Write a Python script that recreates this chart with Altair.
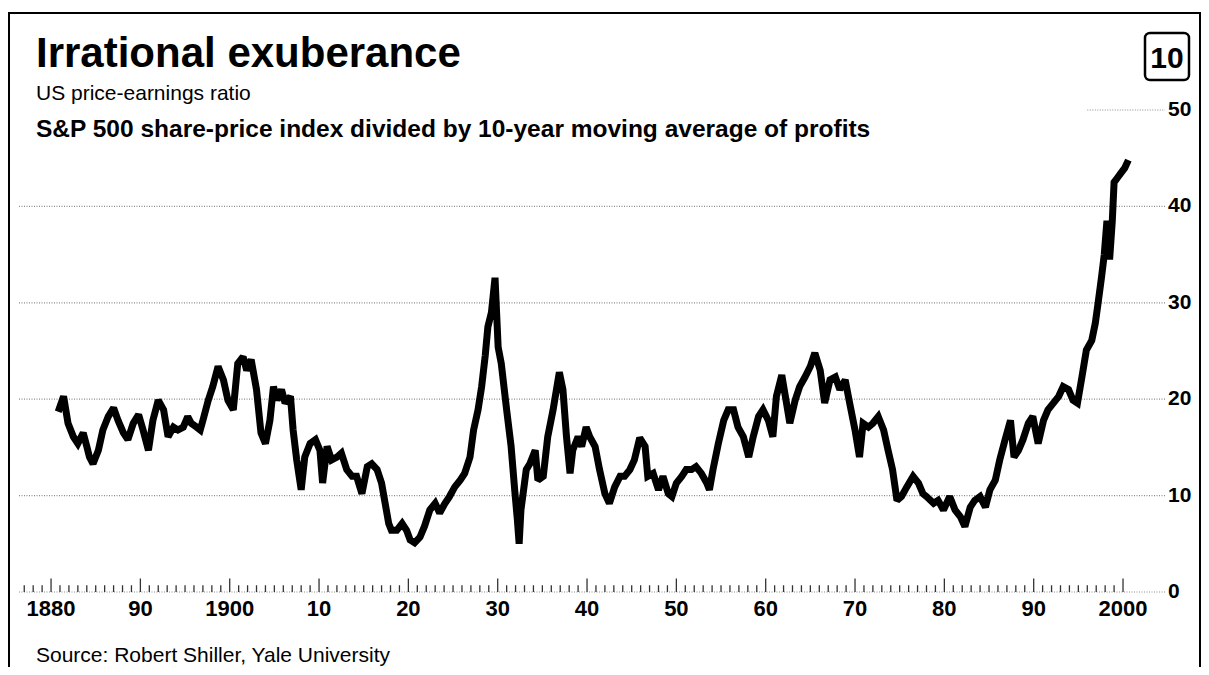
import altair as alt
import pandas as pd

# ---------------- data ----------------
years = [1880.8, 1881.4, 1881.9, 1882.5, 1883.0, 1883.6, 1884.0, 1884.3, 1884.7, 1885.3,
         1885.8, 1886.4, 1887.0, 1887.5, 1888.1, 1888.6, 1889.2, 1889.8, 1890.3, 1890.9,
         1891.4, 1892.0, 1892.6, 1893.1, 1893.7, 1894.2, 1894.8, 1895.3, 1895.7, 1896.3,
         1896.7, 1897.0, 1897.6, 1898.1, 1898.7, 1899.3, 1899.8, 1900.4, 1900.9, 1901.5,
         1901.9, 1902.4, 1903.0, 1903.5, 1904.0, 1904.5, 1904.9, 1905.3, 1905.8, 1906.2,
         1906.8, 1907.1, 1907.5, 1908.0, 1908.4, 1909.0, 1909.6, 1910.1, 1910.4, 1910.9,
         1911.4, 1912.0, 1912.5, 1913.1, 1913.7, 1914.2, 1914.8, 1915.4, 1915.9, 1916.5,
         1917.0, 1917.4, 1917.8, 1918.1, 1918.7, 1919.3, 1919.8, 1920.2, 1920.7, 1921.3,
         1921.8, 1922.4, 1923.0, 1923.5, 1924.1, 1924.6, 1925.2, 1925.8, 1926.3, 1926.9,
         1927.3, 1927.8, 1928.2, 1928.6, 1928.9, 1929.3, 1929.7, 1930.05, 1930.4, 1931.0,
         1931.5, 1931.9, 1932.2, 1932.4, 1932.6, 1933.2, 1933.6, 1934.2, 1934.5, 1935.1,
         1935.6, 1936.2, 1936.9, 1937.3, 1937.7, 1938.1, 1938.4, 1939.0, 1939.4, 1939.9,
         1940.3, 1940.9, 1941.4, 1942.0, 1942.5, 1943.1, 1943.7, 1944.2, 1944.8, 1945.3,
         1945.9, 1946.5, 1946.8, 1947.4, 1948.0, 1948.5, 1949.1, 1949.5, 1950.0, 1950.6,
         1951.1, 1951.7, 1952.2, 1952.8, 1953.4, 1953.7, 1954.1, 1954.7, 1955.3, 1955.8,
         1956.4, 1956.9, 1957.5, 1958.1, 1958.6, 1959.2, 1959.7, 1960.3, 1960.8, 1961.2,
         1961.8, 1962.4, 1962.7, 1963.3, 1963.8, 1964.4, 1965.0, 1965.5, 1966.1, 1966.6,
         1967.2, 1967.8, 1968.3, 1968.9, 1969.4, 1970.0, 1970.5, 1970.9, 1971.5, 1972.0,
         1972.6, 1973.2, 1973.7, 1974.2, 1974.7, 1975.2, 1975.8, 1976.5, 1977.1, 1977.6,
         1978.0, 1978.8, 1979.3, 1979.9, 1980.6, 1981.2, 1981.8, 1982.3, 1982.9, 1983.4,
         1984.0, 1984.6, 1985.1, 1985.7, 1986.2, 1986.8, 1987.4, 1987.8, 1988.3, 1988.8,
         1989.4, 1989.9, 1990.5, 1991.1, 1991.6, 1992.2, 1992.8, 1993.3, 1993.9, 1994.4,
         1994.9, 1995.4, 1995.9, 1996.5, 1996.9, 1997.2, 1997.6, 1997.9, 1998.2, 1998.5,
         1998.8, 1999.0, 1999.4, 1999.8, 2000.2, 2000.6]

pe_ratio = [18.7, 20.3, 17.5, 16.1, 15.4, 16.5, 15.1, 14.0, 13.3, 14.7,
            16.8, 18.2, 19.1, 17.8, 16.5, 15.8, 17.5, 18.4, 16.8, 14.7,
            17.8, 19.9, 18.9, 16.1, 17.1, 16.8, 17.1, 18.2, 17.5, 17.1,
            16.8, 17.8, 19.9, 21.3, 23.4, 22.0, 19.9, 18.9, 23.7, 24.4,
            23.0, 24.1, 21.0, 16.5, 15.4, 17.8, 21.3, 19.9, 21.0, 19.6,
            20.3, 16.8, 13.7, 10.6, 14.0, 15.4, 15.8, 14.7, 11.3, 15.1,
            13.7, 14.0, 14.4, 12.7, 12.0, 12.0, 10.2, 13.0, 13.3, 12.7,
            11.3, 9.2, 7.1, 6.4, 6.4, 7.1, 6.4, 5.4, 5.1, 5.7,
            6.8, 8.5, 9.2, 8.2, 9.2, 9.9, 10.9, 11.6, 12.3, 14.0,
            16.8, 18.9, 21.3, 24.5, 27.5, 29.0, 32.6, 25.4, 23.7, 18.9,
            15.1, 10.6, 7.5, 5.0, 8.5, 12.7, 13.3, 14.7, 11.6, 12.0,
            16.1, 18.9, 22.8, 21.0, 16.1, 12.3, 14.7, 16.1, 15.1, 17.1,
            16.1, 15.1, 12.7, 10.2, 9.2, 10.9, 12.0, 12.0, 12.7, 13.7,
            16.0, 15.1, 12.0, 12.3, 10.6, 12.0, 10.2, 9.9, 11.3, 12.0,
            12.7, 12.7, 13.0, 12.3, 11.3, 10.6, 12.7, 15.4, 17.8, 18.9,
            18.9, 17.1, 16.1, 14.0, 16.1, 18.2, 18.9, 17.8, 16.1, 20.3,
            22.5, 19.2, 17.5, 19.9, 21.3, 22.3, 23.4, 24.8, 23.0, 19.6,
            22.0, 22.3, 21.0, 22.0, 19.6, 16.8, 14.0, 17.5, 17.1, 17.5,
            18.2, 16.8, 14.7, 12.7, 9.5, 9.9, 10.9, 12.0, 11.3, 10.2,
            9.9, 9.2, 9.5, 8.5, 9.9, 8.5, 7.8, 6.8, 8.8, 9.5,
            9.9, 8.8, 10.6, 11.6, 13.7, 15.8, 17.8, 14.0, 14.7, 15.8,
            17.5, 18.2, 15.4, 17.8, 18.9, 19.6, 20.3, 21.3, 21.0, 19.9,
            19.6, 22.3, 25.1, 26.1, 27.9, 29.9, 32.7, 35.0, 38.5, 34.5,
            38.5, 42.5, 43.0, 43.5, 44.0, 44.8]

grid_values = [0, 10, 20, 30, 40]
top_grid_value = [50]
top_grid_start = [1996.0]
y_tick_values = [0, 10, 20, 30, 40, 50]
x_tick_years = [1880, 1890, 1900, 1910, 1920, 1930, 1940, 1950, 1960, 1970, 1980, 1990, 2000]
x_tick_text = ["1880", "90", "1900", "10", "20", "30", "40", "50", "60", "70", "80", "90", "2000"]
minor_tick_years = list(range(1877, 2001))

TITLE = "Irrational exuberance"
SUB1 = "US price-earnings ratio"
SUB2 = "S&P 500 share-price index divided by 10-year moving average of profits"
SOURCE = "Source: Robert Shiller, Yale University"
CHART_NO = "10"

FONT = "Liberation Sans"
W, H = 1147, 482

series = pd.DataFrame({"year": years, "pe": pe_ratio})
grid = pd.DataFrame({"v": grid_values})
grid50 = pd.DataFrame({"v": top_grid_value, "start": top_grid_start})
ticks = pd.DataFrame({"yr": minor_tick_years})
xlab = pd.DataFrame({"yr": x_tick_years, "lab": x_tick_text})
ylab = pd.DataFrame({"v": y_tick_values})

xs = alt.Scale(domain=[1876.3, 2004.7], nice=False, zero=False)
ys = alt.Scale(domain=[0, 50], nice=False, zero=True)

GRID_COLOR = "#8c8c8c"

gridlines = alt.Chart(grid).mark_rule(color=GRID_COLOR, strokeWidth=1.2, strokeDash=[1, 1.5]).encode(
    y=alt.Y("v:Q", scale=ys, axis=None)
)
gridline50 = alt.Chart(grid50).mark_rule(color=GRID_COLOR, strokeWidth=1.2, strokeDash=[1, 1.5]).encode(
    x=alt.X("start:Q", scale=xs, axis=None),
    x2=alt.value(W),
    y=alt.Y("v:Q", scale=ys, axis=None),
)
tick_marks = alt.Chart(ticks).mark_rule(color="#333333", strokeWidth=1.3).transform_calculate(
    base="0", top="datum.yr % 10 == 0 ? 1.4 : 0.7"
).encode(
    x=alt.X("yr:Q", scale=xs, axis=None),
    y=alt.Y("base:Q", scale=ys, axis=None),
    y2="top:Q",
)
line = alt.Chart(series).mark_line(color="black", strokeWidth=7, strokeJoin="miter", strokeMiterLimit=2).encode(
    x=alt.X("year:Q", scale=xs, axis=None),
    y=alt.Y("pe:Q", scale=ys, axis=None),
)

# axis labels, placed through the same scales
x_labels = alt.Chart(xlab).mark_text(
    font=FONT, fontSize=22, fontWeight="bold", align="center", baseline="alphabetic", color="black"
).encode(x=alt.X("yr:Q", scale=xs, axis=None), y=alt.value(H + 24), text="lab:N")
y_labels = alt.Chart(ylab).mark_text(
    font=FONT, fontSize=21, fontWeight="bold", align="left", baseline="middle", color="black"
).encode(x=alt.value(W + 3), y=alt.Y("v:Q", scale=ys, axis=None), text=alt.Text("v:Q", format="d"))


def text_layer(txt, x, y, size, weight="normal", align="left"):
    return alt.Chart(pd.DataFrame({"t": [txt]})).mark_text(
        font=FONT, fontSize=size, fontWeight=weight, align=align, baseline="alphabetic", color="black"
    ).encode(x=alt.value(x), y=alt.value(y), text="t:N")


title = text_layer(TITLE, 18, -43, 42, "bold")
sub1 = text_layer(SUB1, 18, -10, 21)
sub2 = text_layer(SUB2, 18, 27, 24.5, "bold")
source = text_layer(SOURCE, 18, 552, 21)
chart_no = text_layer(CHART_NO, 1149, -42, 30, "bold", "center")

one = pd.DataFrame({"k": [0]})
box = alt.Chart(one).mark_rect(fill="white", stroke="black", strokeWidth=2.5, cornerRadius=5).encode(
    x=alt.value(1127), x2=alt.value(1171), y=alt.value(-77), y2=alt.value(-30)
)
frame_left = alt.Chart(one).mark_rule(color="black", strokeWidth=2).encode(
    x=alt.value(-9), y=alt.value(-97), y2=alt.value(570)
)
frame_top = alt.Chart(one).mark_rule(color="black", strokeWidth=2).encode(
    x=alt.value(-10), x2=alt.value(1184), y=alt.value(-97)
)
frame_right = alt.Chart(one).mark_rule(color="black", strokeWidth=2).encode(
    x=alt.value(1182), y=alt.value(-97), y2=alt.value(570)
)

chart = alt.layer(
    gridlines, gridline50, tick_marks, line, x_labels, y_labels,
    title, sub1, sub2, source, box, chart_no,
    frame_left, frame_top, frame_right,
).properties(
    width=W, height=H,
    padding={"left": 10, "top": 102, "right": 36, "bottom": 75},
    autosize=alt.AutoSizeParams(type="none"),
    background="white",
).configure(font=FONT).configure_view(stroke=None)

chart.save("out.html", embed_options={"renderer": "svg", "actions": False})
